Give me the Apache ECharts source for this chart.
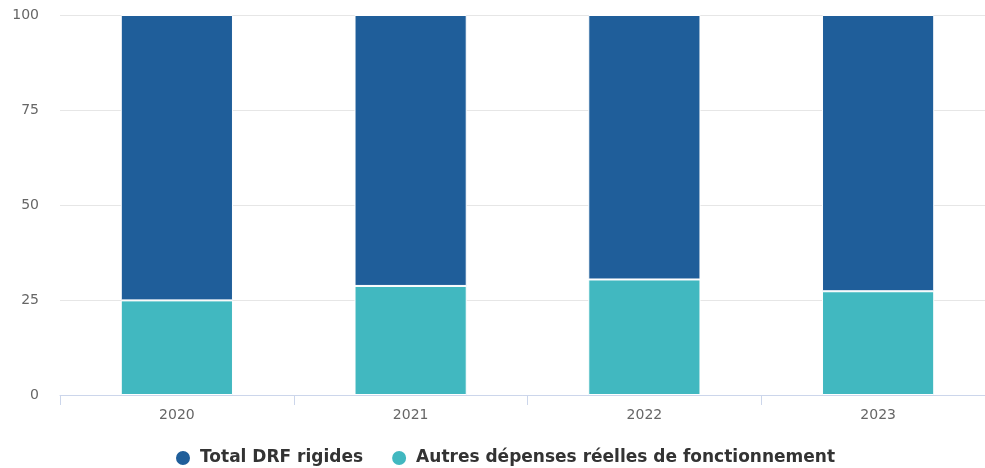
<!DOCTYPE html>
<html>
<head>
<meta charset="utf-8">
<script src="https://cdn.jsdelivr.net/npm/echarts@6/dist/echarts.min.js"></script>
<style>
  html, body { margin: 0; padding: 0; background: #fff; }
  #chart { width: 985px; height: 468px; }
</style>
</head>
<body>
<div id="chart"></div>
<script>
// Répartition des dépenses réelles de fonctionnement (en %)
const categories = ['2020', '2021', '2022', '2023'];
const autresDepenses = [24.9, 28.7, 30.4, 27.3];
const totalDrfRigides = [75.1, 71.3, 69.6, 72.7];
const yTicks = [0, 25, 50, 75, 100];

const FONT = 'DejaVu Sans';

const chart = echarts.init(document.getElementById('chart'));
chart.setOption({
  animation: false,
  textStyle: { fontFamily: FONT },
  // the category band runs a little past the right edge of the canvas
  grid: { left: 60, width: 935, top: 15, bottom: 73, outerBoundsMode: 'none', containLabel: false },
  legend: {
    top: 449,
    left: 174,
    padding: 0,
    icon: 'circle',
    itemWidth: 16,
    itemHeight: 16,
    itemGap: 27,
    textStyle: { fontFamily: FONT, fontSize: 17, fontWeight: 'bold', color: '#333', padding: [0, 0, 0, 4] },
    data: ['Total DRF rigides', 'Autres dépenses réelles de fonctionnement']
  },
  xAxis: {
    type: 'category',
    data: categories,
    axisLine: { lineStyle: { color: '#ccd6eb' } },
    axisTick: { show: true, length: 10, lineStyle: { color: '#ccd6eb' } },
    axisLabel: { color: '#666', fontFamily: FONT, fontSize: 14, margin: 13 }
  },
  yAxis: {
    type: 'value',
    min: yTicks[0],
    max: yTicks[yTicks.length - 1],
    interval: 25,
    axisLine: { show: false },
    axisTick: { show: false },
    axisLabel: { color: '#666', fontFamily: FONT, fontSize: 14, margin: 21 },
    splitLine: { lineStyle: { color: '#e6e6e6' } }
  },
  series: [
    {
      name: 'Autres dépenses réelles de fonctionnement',
      type: 'bar',
      stack: 'total',
      barWidth: '48%',
      data: autresDepenses,
      itemStyle: { color: '#41b8c0', borderColor: '#fff', borderWidth: 1 }
    },
    {
      name: 'Total DRF rigides',
      type: 'bar',
      stack: 'total',
      barWidth: '48%',
      data: totalDrfRigides,
      itemStyle: { color: '#1f5e9a', borderColor: '#fff', borderWidth: 1 }
    }
  ]
});
</script>
</body>
</html>
